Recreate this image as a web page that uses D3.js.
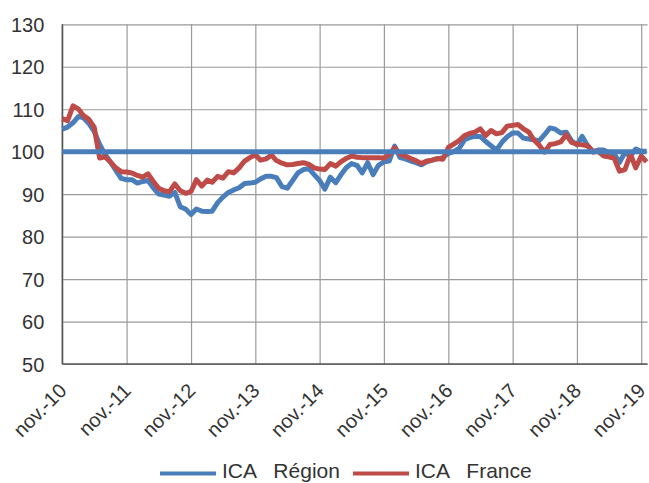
<!DOCTYPE html>
<html>
<head>
<meta charset="utf-8">
<script src="https://cdn.jsdelivr.net/npm/d3@7"></script>
<style>
  body { margin: 0; background: #fff; }
  text { font-family: "Liberation Sans", Arial, sans-serif; fill: #333; }
</style>
</head>
<body>
<div id="plot"></div>
<script>
// Monthly index values, nov-10 .. dec-19
const regionValues = [
  105.3, 105.8, 106.8, 108.3, 108.0, 106.6, 104.8, 101.7, 99.4, 97.6,
  95.6, 93.7, 93.4, 93.4, 92.6, 93.0, 93.2, 91.5, 90.0, 89.8,
  89.5, 90.4, 87.0, 86.5, 85.2, 86.5, 86.0, 85.9, 86.0, 88.0,
  89.3, 90.4, 91.0, 91.5, 92.5, 92.6, 92.8, 93.6, 94.2, 94.2,
  93.9, 91.8, 91.4, 93.2, 95.0, 95.8, 96.0, 94.6, 93.2, 91.2,
  94.0, 92.7, 94.5, 96.2, 97.2, 96.8, 95.0, 97.4, 94.6, 96.8,
  97.6, 97.8, 101.3, 98.6, 98.3, 97.8, 97.4, 96.9, 97.6, 98.0,
  98.3, 98.6, 99.6, 100.0, 100.8, 102.8, 103.3, 103.6, 103.6, 102.4,
  101.4, 100.4, 102.2, 103.5, 104.4, 104.4, 103.2, 103.0, 102.8, 102.6,
  104.0, 105.6, 105.3, 104.4, 104.6, 102.6, 101.6, 103.6, 101.4, 100.0,
  100.4, 100.4, 99.8, 99.4, 97.5, 99.8, 99.0, 100.6, 100.1, 100.1
];
const franceValues = [
  107.8, 107.3, 110.8, 110.0, 108.5, 107.6, 105.8, 98.5, 98.8, 97.6,
  96.2, 95.3, 95.2, 95.0, 94.4, 94.0, 94.8, 93.0, 91.4, 90.8,
  90.6, 92.4, 90.8, 90.2, 90.6, 93.4, 91.9, 93.3, 92.8, 94.2,
  93.8, 95.3, 95.0, 96.2, 97.8, 98.6, 99.3, 98.0, 98.3, 99.2,
  97.9, 97.3, 96.9, 97.0, 97.2, 97.4, 97.0, 96.2, 95.9, 95.8,
  97.2, 96.6, 97.6, 98.4, 99.0, 98.7, 98.6, 98.6, 98.6, 98.6,
  98.5, 99.3, 100.9, 99.4, 99.0, 98.4, 97.9, 97.2, 97.8, 98.0,
  98.4, 98.2, 101.0, 101.8, 102.6, 103.8, 104.3, 104.6, 105.4, 103.8,
  105.0, 104.2, 104.5, 106.0, 106.2, 106.4, 105.4, 104.6, 102.8, 101.5,
  99.9, 101.7, 101.9, 102.3, 104.0, 102.2, 101.8, 101.6, 101.4, 99.9,
  100.1, 99.0, 98.8, 98.4, 95.4, 95.8, 99.4, 96.2, 99.0, 97.6
];
const baseValue = 100;
const yTicks = [50, 60, 70, 80, 90, 100, 110, 120, 130];
const xTickLabels = ["nov.-10", "nov.-11", "nov.-12", "nov.-13", "nov.-14",
                     "nov.-15", "nov.-16", "nov.-17", "nov.-18", "nov.-19"];
const seriesNames = ["ICA   Région", "ICA   France"];
const seriesColors = ["#4a7ebb", "#be4b48"];

const width = 649, height = 483;
const plotLeft = 62.3, plotRight = 646.5, plotTop = 24.3, plotBottom = 364;

const months = regionValues.map((d, i) => new Date(2010, 10 + i, 1));
const tickDates = xTickLabels.map((d, i) => new Date(2010 + i, 10, 1));

// Scales
const xScale = d3.scaleTime()
                 .domain([months[0], months[months.length - 1]])
                 .range([plotLeft, plotRight]);
const yScale = d3.scaleLinear()
                 .domain([50, 130])
                 .range([plotBottom, plotTop]);

const svg = d3.select('#plot')
              .append('svg')
              .attr('width', width)
              .attr('height', height);

svg.append('rect')
   .attr('width', width)
   .attr('height', height)
   .attr('fill', '#fff');

// Horizontal grid + y labels
const yAxis = d3.axisLeft(yScale)
                .tickValues(yTicks)
                .tickSize(-(plotRight + 1 - plotLeft))
                .tickPadding(18)
                .tickFormat(d3.format('d'));
const gy = svg.append('g')
              .attr('transform', `translate(${plotLeft}, 0)`)
              .call(yAxis);
gy.select('.domain').remove();
gy.selectAll('.tick line')
  .attr('stroke', '#9a9a9a')
  .attr('stroke-width', 1.2);
gy.selectAll('.tick text')
  .style('font-size', '20px')
  .attr('fill', '#333')
  .attr('dy', '0.36em');

// Vertical grid + x labels
const xAxis = d3.axisBottom(xScale)
                .tickValues(tickDates)
                .tickSize(-(plotBottom - plotTop))
                .tickFormat((d, i) => xTickLabels[i]);
const gx = svg.append('g')
              .attr('transform', `translate(0, ${plotBottom})`)
              .call(xAxis);
gx.select('.domain').remove();
gx.selectAll('.tick line')
  .attr('stroke', '#9a9a9a')
  .attr('stroke-width', 1.2);
gx.selectAll('.tick text')
  .style('font-size', '20px')
  .attr('fill', '#333')
  .attr('text-anchor', 'end')
  .attr('x', 0).attr('y', 0).attr('dy', null)
  .attr('transform', 'translate(5, 28) rotate(-45)');

// Axis lines
svg.append('line')
   .attr('x1', plotLeft).attr('x2', plotLeft)
   .attr('y1', plotTop).attr('y2', plotBottom)
   .attr('stroke', '#555').attr('stroke-width', 1.5);
svg.append('line')
   .attr('x1', plotLeft).attr('x2', plotRight + 1)
   .attr('y1', plotBottom).attr('y2', plotBottom)
   .attr('stroke', '#555').attr('stroke-width', 1.5);

// Series
const line = d3.line()
               .x((d, i) => xScale(months[i]))
               .y((d) => yScale(d));

[regionValues, franceValues].forEach((values, k) => {
  svg.append('path')
     .datum(values)
     .attr('fill', 'none')
     .attr('stroke', seriesColors[k])
     .attr('stroke-width', 5)
     .attr('stroke-linejoin', 'round')
     .attr('d', line);
});

// Reference line at 100
svg.append('line')
   .attr('x1', xScale(months[0])).attr('x2', xScale(months[months.length - 1]))
   .attr('y1', yScale(baseValue)).attr('y2', yScale(baseValue))
   .attr('stroke', seriesColors[0])
   .attr('stroke-width', 5);

// Legend
const legendX = [160, 353];
seriesNames.forEach((name, k) => {
  const g = svg.append('g').attr('transform', `translate(${legendX[k]}, 473.5)`);
  g.append('line')
   .attr('x1', 0).attr('x2', 56)
   .attr('stroke', seriesColors[k])
   .attr('stroke-width', 4);
  g.append('text')
   .attr('x', 62).attr('y', 4.5)
   .style('font-size', '21px')
   .style('white-space', 'pre')
   .text(name);
});
</script>
</body>
</html>
